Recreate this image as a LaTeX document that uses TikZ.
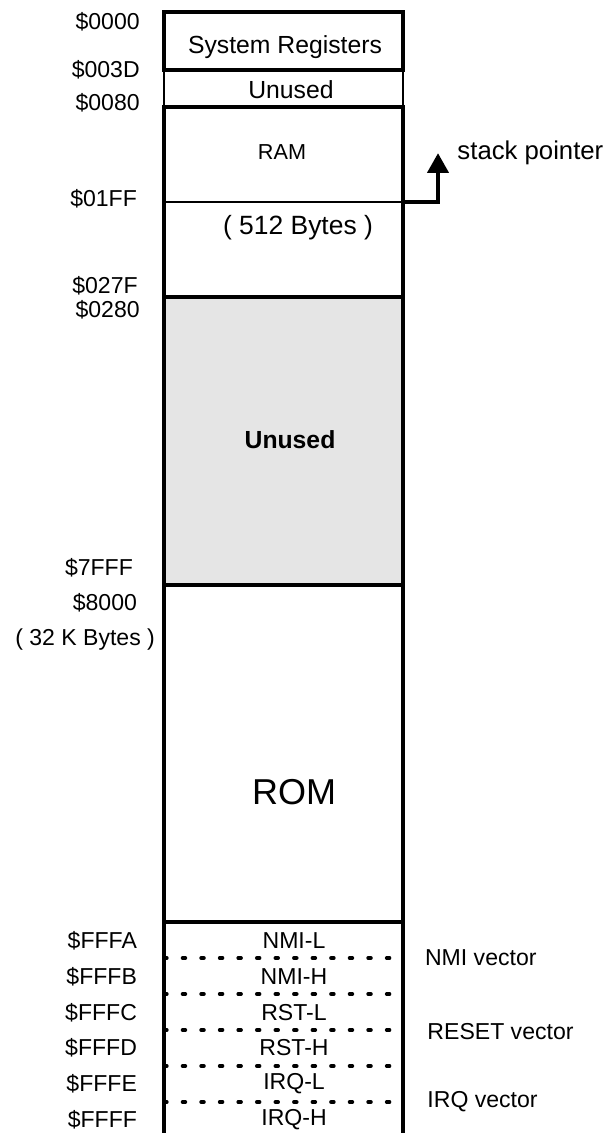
\documentclass[tikz,border=0pt]{standalone}
\usepackage{fontspec}
\setmainfont{Liberation Sans}
\definecolor{memgrey}{HTML}{E5E5E5}
\usetikzlibrary{arrows.meta, positioning}

\begin{document}
\begin{tikzpicture}[
  region/.style={rectangle, draw, line width=2.8pt, minimum width=5.975cm,
    outer sep=0pt, inner sep=0pt},
  addr/.style={anchor=east, inner sep=0pt, font=\fontsize{16.4}{19}\selectfont},
  vecname/.style={anchor=west, inner sep=0pt, font=\fontsize{16.4}{19}\selectfont},
  cell/.style={font=\fontsize{16.4}{19}\selectfont},
  bigcell/.style={font=\fontsize{17.6}{20}\selectfont},
  divider/.style={line width=2.6pt, line cap=round, dash pattern=on 2pt off 11.2pt},
  arrow/.style={-{Triangle[width=15pt,length=14pt]}, line width=2.6pt}
]
\useasboundingbox (0,0) rectangle (15.2,-28.325);

% memory regions, top to bottom
\node[region, anchor=north, minimum height=1.45cm] (sysreg) at (7.0875,-0.3) {};
\node[region, line width=0.8pt, minimum height=0.925cm, below=0pt of sysreg] (lowfree) {};
\node[region, minimum height=4.75cm, below=0pt of lowfree] (ram) {};
\node[region, fill=memgrey, minimum height=7.2cm, below=0pt of ram] (gap) {};
\node[region, minimum height=8.425cm, below=0pt of gap] (rom) {};
\node[region, minimum height=5.6cm, below=0pt of rom] (vec) {};

% texts inside the regions
\node[bigcell] (sysname) at (7.125,-1.18) {System Registers};
\node[bigcell] (lowname) at (7.275,-2.25) {Unused};
\node[cell, font=\fontsize{15.4}{18}\selectfont] (ramname) at (7.05,-3.8) {RAM};
\node[cell, font=\fontsize{18.8}{22}\selectfont] (ramsize) at (7.45,-5.68) {( 512 Bytes )};
\node[bigcell] (gapname) at (7.25,-11.0) {\bfseries Unused};
\node[cell, font=\fontsize{25.6}{30}\selectfont] (romname) at (7.35,-19.8) {ROM};

\foreach \nm/\y [count=\i] in {NMI-L/-23.525, NMI-H/-24.425, RST-L/-25.325,
    RST-H/-26.2, IRQ-L/-27.1, IRQ-H/-28.0}
  \node[cell] (cell\i) at (7.35,\y) {\nm};

\foreach \y in {-23.95, -24.85, -25.75, -26.65, -27.55}
  \draw[divider] (vec.west |- 0,\y) -- (vec.east |- 0,\y);

% stack pointer line
\coordinate (sp01) at (ram.east |- 0,-5.05);
\coordinate (sptip) at (10.95,-3.83);
\draw[line width=1pt] (ram.west |- sp01) -- (sp01);
\draw[arrow] (sp01) -| (sptip);
\node[vecname, font=\fontsize{18.3}{21}\selectfont] (spname) at (11.43,-3.83) {stack pointer};

% addresses
\node[addr] (a0000) at (3.5,-0.55) {\$0000};
\node[addr] (a003D) at (3.5,-1.75) {\$003D};
\node[addr] (a0080) at (3.5,-2.575) {\$0080};
\node[addr] (a01FF) at (3.43,-4.975) {\$01FF};
\node[addr] (a027F) at (3.45,-7.15) {\$027F};
\node[addr] (a0280) at (3.5,-7.75) {\$0280};
\node[addr] (a7FFF) at (3.33,-14.2) {\$7FFF};
\node[addr] (a8000) at (3.43,-15.075) {\$8000};
\node[addr] (romsize) at (3.88,-16.0) {( 32 K Bytes )};
\foreach \lab/\y [count=\i] in {FFFA/-23.525, FFFB/-24.425, FFFC/-25.325,
    FFFD/-26.2, FFFE/-27.1, FFFF/-28.0}
  \node[addr] (avec\i) at (3.43,\y) {\$\lab};

% vector names
\node[vecname] (nmivec) at (10.62,-23.95) {NMI vector};
\node[vecname] (rstvec) at (10.68,-25.8) {RESET vector};
\node[vecname] (irqvec) at (10.68,-27.55) {IRQ vector};
\end{tikzpicture}
\end{document}
